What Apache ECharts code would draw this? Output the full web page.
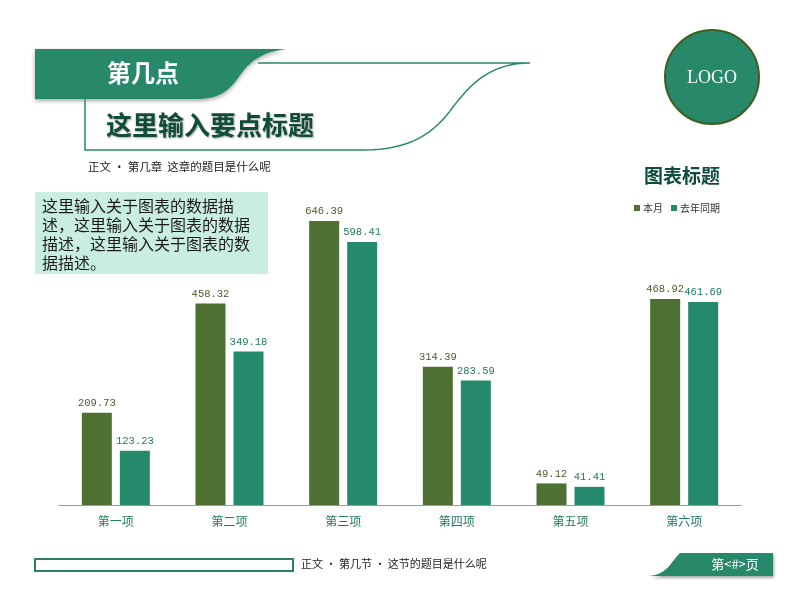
<!DOCTYPE html>
<html><head><meta charset="utf-8">
<script src="https://cdn.jsdelivr.net/npm/echarts@6/dist/echarts.min.js"></script>
<style>html,body{margin:0;padding:0;background:#fff}#c{width:800px;height:600px}</style>
</head><body><div id="c"></div>
<script>
const categories = ['第一项','第二项','第三项','第四项','第五项','第六项'];
const thisMonth = [209.73, 458.32, 646.39, 314.39, 49.12, 468.92];
const lastYear = [123.23, 349.18, 598.41, 283.59, 41.41, 461.69];
const seriesNames = ['本月','去年同期'];

const olive = '#4e7032', teal = '#258a6b';
const cjk = '"Noto Sans CJK SC", sans-serif';

// decorative curve helper (cubic bezier sampled into points)
function bez(p0, p1, p2, p3, n) {
  const out = [];
  for (let i = 0; i <= n; i++) {
    const t = i / n, u = 1 - t;
    out.push([
      u*u*u*p0[0] + 3*u*u*t*p1[0] + 3*u*t*t*p2[0] + t*t*t*p3[0],
      u*u*u*p0[1] + 3*u*u*t*p1[1] + 3*u*t*t*p2[1] + t*t*t*p3[1]
    ]);
  }
  return out;
}
const headShape = [[35,49],[287,49]]
  .concat(bez([287,49],[262,52],[250,60],[238,78],12))
  .concat(bez([238,78],[228,92],[218,98],[200,99],10))
  .concat([[35,99]]);
const headLine = [[258,63],[530,63]]
  .concat(bez([530,63],[492,63],[472,82],[453,107],16))
  .concat(bez([453,107],[435,132],[412,150],[363,150],16))
  .concat([[85,150],[85,99]]);
const tabShape = bez([648,576],[668,575],[672,560],[680,553],12).concat([[773,553],[773,576]]);

const chart = echarts.init(document.getElementById('c'));
chart.setOption({
  backgroundColor: '#fff',
  animation: false,
  legend: {
    data: seriesNames, left: 629, top: 198, icon: 'rect', itemWidth: 6, itemHeight: 6, itemGap: 8,
    textStyle: { fontSize: 10, color: '#333', fontFamily: cjk, padding: [0, 0, 0, -2] }
  },
  grid: { left: 59, right: 59, top: 197.4, bottom: 95 },
  xAxis: {
    type: 'category', data: categories,
    axisLine: { lineStyle: { color: '#9a9a9a', width: 1 } },
    axisTick: { show: false },
    axisLabel: { color: '#1f7a5e', fontSize: 12, margin: 10, fontFamily: cjk }
  },
  yAxis: { type: 'value', min: 0, max: 700, show: false, splitLine: { show: false } },
  series: [
    { name: seriesNames[0], type: 'bar', data: thisMonth, barWidth: 30, barGap: '26.7%',
      itemStyle: { color: olive },
      label: { show: true, position: 'top', distance: 4, color: '#4a5a2a', fontSize: 10.5, fontFamily: '"Liberation Mono", monospace' } },
    { name: seriesNames[1], type: 'bar', data: lastYear, barWidth: 30,
      itemStyle: { color: teal },
      label: { show: true, position: 'top', distance: 4, color: '#1f7a5e', fontSize: 10.5, fontFamily: '"Liberation Mono", monospace' } }
  ],
  graphic: [
    { type: 'polygon', shape: { points: headShape },
      style: { fill: '#27896a', shadowColor: 'rgba(0,0,0,0.35)', shadowBlur: 4, shadowOffsetY: 2 } },
    { type: 'polyline', shape: { points: headLine },
      style: { stroke: '#27896a', lineWidth: 1.5 } },
    { type: 'text', left: 107, top: 61, style: { text: '第几点', fill: '#fff', font: 'bold 24px ' + cjk } },
    { type: 'text', left: 106, top: 112, style: { text: '这里输入要点标题', fill: '#114c3b', font: 'bold 26px ' + cjk,
      textShadowColor: 'rgba(0,0,0,0.35)', textShadowBlur: 2, textShadowOffsetX: 1, textShadowOffsetY: 1 } },
    { type: 'text', left: 88, top: 161, style: { text: '正文 · 第几章  这章的题目是什么呢', fill: '#222', font: '11.5px ' + cjk } },
    { type: 'circle', shape: { cx: 712, cy: 77, r: 47 }, style: { fill: '#27896a', stroke: '#3f5e20', lineWidth: 2 } },
    { type: 'text', x: 712, y: 78, style: { text: 'LOGO', fill: '#fff', font: '18px "Liberation Serif", serif', align: 'center', verticalAlign: 'middle' } },
    { type: 'text', x: 682, y: 176, style: { text: '图表标题', fill: '#0e4d3c', font: 'bold 19px ' + cjk, align: 'center', verticalAlign: 'middle' } },
    { type: 'rect', shape: { x: 35, y: 192, width: 233, height: 82 }, style: { fill: '#c9eee1' } },
    { type: 'text', left: 42, top: 196, style: { text: '这里输入关于图表的数据描\n述，这里输入关于图表的数据\n描述，这里输入关于图表的数\n据描述。', fill: '#1a1a1a', font: '16px ' + cjk, lineHeight: 19 } },
    { type: 'rect', shape: { x: 35, y: 559, width: 258, height: 12 }, style: { fill: 'none', stroke: '#2b8066', lineWidth: 2 } },
    { type: 'text', left: 301, top: 558, style: { text: '正文 · 第几节 · 这节的题目是什么呢', fill: '#222', font: '11px ' + cjk } },
    { type: 'polygon', shape: { points: tabShape },
      style: { fill: '#27896a', shadowColor: 'rgba(0,0,0,0.35)', shadowBlur: 3, shadowOffsetX: 1, shadowOffsetY: 2 } },
    { type: 'text', x: 735, y: 564, style: { text: '第<#>页', fill: '#fff', font: '13px ' + cjk, align: 'center', verticalAlign: 'middle' } }
  ]
});
</script></body></html>
